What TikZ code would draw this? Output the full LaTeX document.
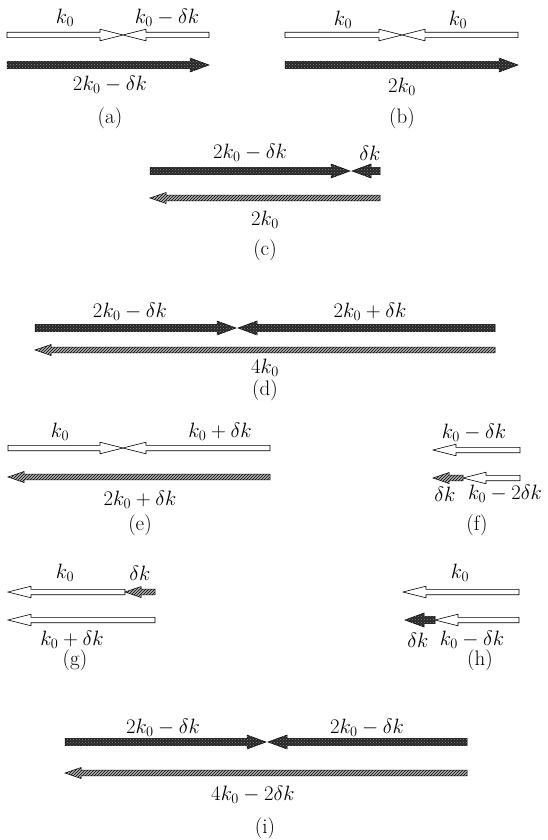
\documentclass[tikz,border=0pt]{standalone}
\usepackage{tikz}
\usetikzlibrary{patterns}

% thick vector: style, tail x, tip x, y
\newcommand{\fatvec}[4]{%
  \path[#1] (#2,{#4-\shaftw}) -- ({#3-sign(#3-#2)*\headlen},{#4-\shaftw})
    -- ({#3-sign(#3-#2)*\headlen},{#4-\headw}) -- (#3,#4)
    -- ({#3-sign(#3-#2)*\headlen},{#4+\headw}) -- ({#3-sign(#3-#2)*\headlen},{#4+\shaftw})
    -- (#2,{#4+\shaftw}) -- cycle;}

\begin{document}
\begin{tikzpicture}[
  x=1pt, y=-1pt,
  shaftw/.store in=\shaftw, headw/.store in=\headw, headlen/.store in=\headlen,
  hollow/.style={draw, line width=0.6pt, fill=white, shaftw=2.7, headw=5.8, headlen=23},
  dense/.style={draw, line width=0.5pt, fill=black!85,
    postaction={pattern=crosshatch dots, pattern color=white!55!black},
    shaftw=3.7, headw=7, headlen=19},
  hatch/.style={draw, line width=0.5pt, fill=black!30,
    postaction={pattern=north east lines}, shaftw=2.8, headw=5.5, headlen=16},
  lab/.style={inner sep=0pt, font=\fontsize{21}{25}\selectfont}
]
  \useasboundingbox (0,0) rectangle (547,840);

  % (a)
  \fatvec{hollow}{7}{123}{35}
  \fatvec{hollow}{209}{123}{35}
  \fatvec{dense}{7}{209}{65}
  \node[lab] (a-k0) at (65,18) {$k_0$};
  \node[lab] (a-kd) at (167,18) {$k_0-\delta k$};
  \node[lab] (a-sum) at (110,85) {$2k_0-\delta k$};
  \node[lab] (a-tag) at (110,118) {(a)};

  % (b)
  \fatvec{hollow}{285}{402}{35}
  \fatvec{hollow}{518}{402}{35}
  \fatvec{dense}{285}{518}{65}
  \node[lab] (b-k0) at (343,20) {$k_0$};
  \node[lab] (b-k1) at (458,20) {$k_0$};
  \node[lab] (b-sum) at (402,87) {$2k_0$};
  \node[lab] (b-tag) at (402,118) {(b)};

  % (c)
  \fatvec{dense}{150}{350}{171}
  \fatvec{dense}{380}{352}{171}
  \fatvec{hatch}{380}{150}{198}
  \node[lab] (c-kd) at (250,153) {$2k_0-\delta k$};
  \node[lab] (c-dk) at (370,153) {$\delta k$};
  \node[lab] (c-sum) at (265,220) {$2k_0$};
  \node[lab] (c-tag) at (265,250) {(c)};

  % (d)
  \fatvec{dense}{35}{236}{328}
  \fatvec{dense}{495}{238}{328}
  \fatvec{hatch}{495}{35}{350}
  \node[lab] (d-kl) at (130,312) {$2k_0-\delta k$};
  \node[lab] (d-kr) at (370,312) {$2k_0+\delta k$};
  \node[lab] (d-sum) at (265,368) {$4k_0$};
  \node[lab] (d-tag) at (265,390) {(d)};

  % (e)
  \fatvec{hollow}{8}{123}{448}
  \fatvec{hollow}{270}{123}{448}
  \fatvec{hatch}{270}{8}{477}
  \node[lab] (e-k0) at (60,432) {$k_0$};
  \node[lab] (e-kd) at (220,432) {$k_0+\delta k$};
  \node[lab] (e-sum) at (140,500) {$2k_0+\delta k$};
  \node[lab] (e-tag) at (140,525) {(e)};

  % (f)
  \fatvec{hollow}{520}{433}{450}
  \fatvec{hollow}{520}{463}{478}
  \fatvec{hatch}{463}{433}{478}
  \node[lab] (f-kd) at (474,433) {$k_0-\delta k$};
  \node[lab] (f-dk) at (445,494) {$\delta k$};
  \node[lab] (f-rest) at (505,494) {$k_0-2\delta k$};
  \node[lab] (f-tag) at (477,525) {(f)};

  % (g)
  \fatvec{hollow}{125}{8}{592}
  \fatvec{hatch}{155}{125}{592}
  \fatvec{hollow}{155}{8}{620}
  \node[lab] (g-k0) at (65,573) {$k_0$};
  \node[lab] (g-dk) at (140,573) {$\delta k$};
  \node[lab] (g-sum) at (72,640) {$k_0+\delta k$};
  \node[lab] (g-tag) at (75,660) {(g)};

  % (h)
  \fatvec{hollow}{519}{403}{592}
  \fatvec{hollow}{519}{435}{620}
  \fatvec{dense}{435}{405}{620}
  \node[lab] (h-k0) at (460,573) {$k_0$};
  \node[lab] (h-dk) at (418,640) {$\delta k$};
  \node[lab] (h-rest) at (472,640) {$k_0-\delta k$};
  \node[lab] (h-tag) at (480,660) {(h)};

  % (i)
  \fatvec{dense}{65}{266}{742}
  \fatvec{dense}{467}{268}{742}
  \fatvec{hatch}{467}{65}{773}
  \node[lab] (i-kl) at (163,728) {$2k_0-\delta k$};
  \node[lab] (i-kr) at (367,728) {$2k_0-\delta k$};
  \node[lab] (i-sum) at (253,795) {$4k_0-2\delta k$};
  \node[lab] (i-tag) at (265,828) {(i)};
\end{tikzpicture}
\end{document}
